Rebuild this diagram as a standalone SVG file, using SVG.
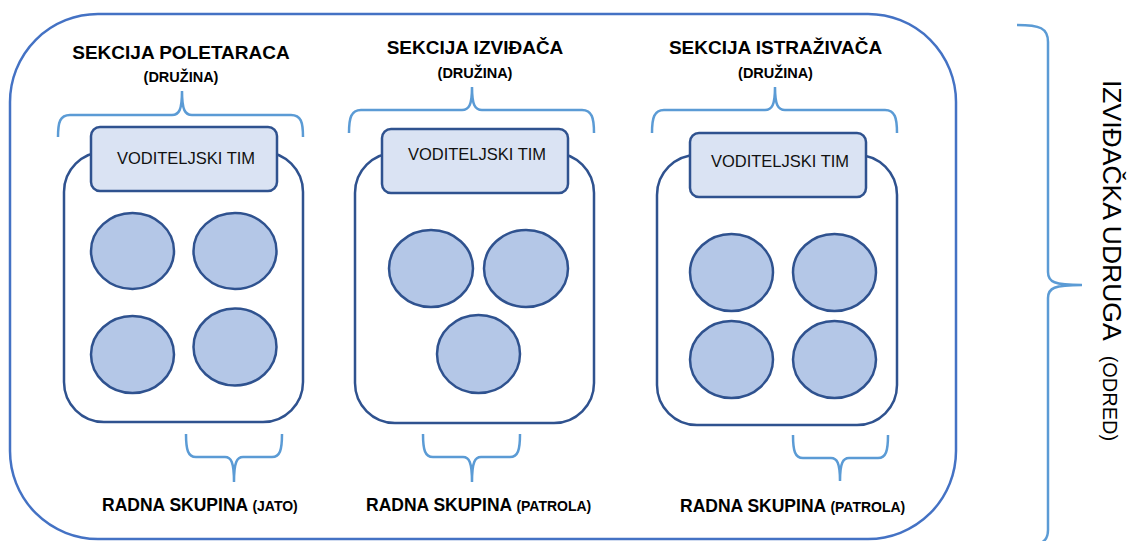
<svg xmlns="http://www.w3.org/2000/svg" width="1141" height="541" viewBox="0 0 1141 541">
<style>
.outer{fill:none;stroke:#4472C4;stroke-width:2.5}
.brace{fill:none;stroke:#5B9BD5;stroke-width:2.5}
.cont{fill:#fff;stroke:#2F528F;stroke-width:2.5}
.head{fill:#DAE3F3;stroke:#2F528F;stroke-width:2.5}
.grp{fill:#B4C7E7;stroke:#2F528F;stroke-width:2.5}
.t{font-family:"Liberation Sans",Arial,sans-serif;fill:#000}
.title{font-size:19px;font-weight:bold;text-anchor:middle}
.sub{font-size:14.5px;font-weight:bold;text-anchor:middle}
.ht{font-size:16.5px;text-anchor:middle;fill:#111}
.lab{font-size:17.5px;font-weight:bold}
.lab2{font-size:14px}
</style>
<rect width="1141" height="541" fill="#fff"/>
<g id="odred">
<rect class="outer" x="10" y="14" width="946" height="525" rx="88" ry="88"/>
</g>
<g id="connectors">
<path class="brace" d="M58,137 C58,122 60,115 70,115 L172,115 C179,115 182,110 182,91 C182,110 185,115 192,115 L291,115 C301,115 303,122 303,137"/>
<path class="brace" d="M349,133 C349,118 351,110 361,110 L462,110 C469,110 472,105 472,87 C472,105 475,110 482,110 L582,110 C592,110 594,118 594,133"/>
<path class="brace" d="M652,133 C652,118 654,110 664,110 L765,110 C772,110 775,105 775,87 C775,105 778,110 785,110 L885,110 C895,110 897,118 897,133"/>
<path class="brace" d="M186,434 C186,450 188,457 196,457 L225,457 C231,457 234,462 234,482 C234,462 237,457 243,457 L272,457 C280,457 282,450 282,434"/>
<path class="brace" d="M423,434 C423,450 425,457 433,457 L463,457 C469,457 472,462 472,482 C472,462 475,457 481,457 L510,457 C518,457 520,450 520,434"/>
<path class="brace" d="M793,435 C793,451 795,458 803,458 L831,458 C837,458 840,463 840,481 C840,463 843,458 849,458 L878,458 C886,458 888,451 888,435"/>
<path class="brace" d="M1017,25 C1040,25 1048,28 1048,42 L1048,272 C1048,282 1054,285 1082,285 C1054,285 1048,288 1048,298 L1048,530 C1048,543 1040,546 1017,546"/>
</g>
<g id="sekcija-poletaraca">
<text class="t title" x="181" y="59">SEKCIJA POLETARACA</text>
<text class="t sub" x="181" y="82">(DRUŽINA)</text>
<rect class="cont" x="64" y="152" width="239" height="270" rx="40" ry="40"/>
<rect class="head" x="91" y="127" width="186" height="64" rx="9" ry="9"/>
<text class="t ht" x="186" y="164">VODITELJSKI TIM</text>
<ellipse class="grp" cx="132.5" cy="251" rx="41.5" ry="38"/>
<ellipse class="grp" cx="235" cy="251" rx="41.5" ry="38"/>
<ellipse class="grp" cx="132.5" cy="354.5" rx="41.5" ry="38.5"/>
<ellipse class="grp" cx="235" cy="347" rx="41.5" ry="38.5"/>
<text class="t lab" x="102" y="511">RADNA SKUPINA <tspan class="lab2">(JATO)</tspan></text>
</g>
<g id="sekcija-izvidaca">
<text class="t title" x="475" y="54">SEKCIJA IZVIĐAČA</text>
<text class="t sub" x="475" y="78">(DRUŽINA)</text>
<rect class="cont" x="355" y="153" width="239" height="270" rx="40" ry="40"/>
<rect class="head" x="382" y="129" width="186" height="64" rx="9" ry="9"/>
<text class="t ht" x="477" y="160">VODITELJSKI TIM</text>
<ellipse class="grp" cx="431" cy="268.5" rx="42" ry="38.5"/>
<ellipse class="grp" cx="526" cy="268.5" rx="42" ry="38.5"/>
<ellipse class="grp" cx="478.5" cy="354" rx="41.5" ry="39"/>
<text class="t lab" x="366" y="511">RADNA SKUPINA <tspan class="lab2">(PATROLA)</tspan></text>
</g>
<g id="sekcija-istrazivaca">
<text class="t title" x="775.5" y="54">SEKCIJA ISTRAŽIVAČA</text>
<text class="t sub" x="775.5" y="78">(DRUŽINA)</text>
<rect class="cont" x="657" y="155" width="240" height="270" rx="40" ry="40"/>
<rect class="head" x="690" y="133" width="176" height="64" rx="9" ry="9"/>
<text class="t ht" x="780" y="167">VODITELJSKI TIM</text>
<ellipse class="grp" cx="731.5" cy="272.5" rx="41.5" ry="38.5"/>
<ellipse class="grp" cx="834.5" cy="272.5" rx="41.5" ry="38.5"/>
<ellipse class="grp" cx="731.5" cy="359.5" rx="41.5" ry="38.5"/>
<ellipse class="grp" cx="834.5" cy="359.5" rx="41.5" ry="38.5"/>
<text class="t lab" x="680" y="512">RADNA SKUPINA <tspan class="lab2">(PATROLA)</tspan></text>
</g>
<g id="udruga-label">
<text class="t" transform="translate(1103,80) rotate(90)" font-size="26.5">IZVIĐAČKA UDRUGA<tspan font-size="20" dx="15">(ODRED)</tspan></text>
</g>
</svg>
